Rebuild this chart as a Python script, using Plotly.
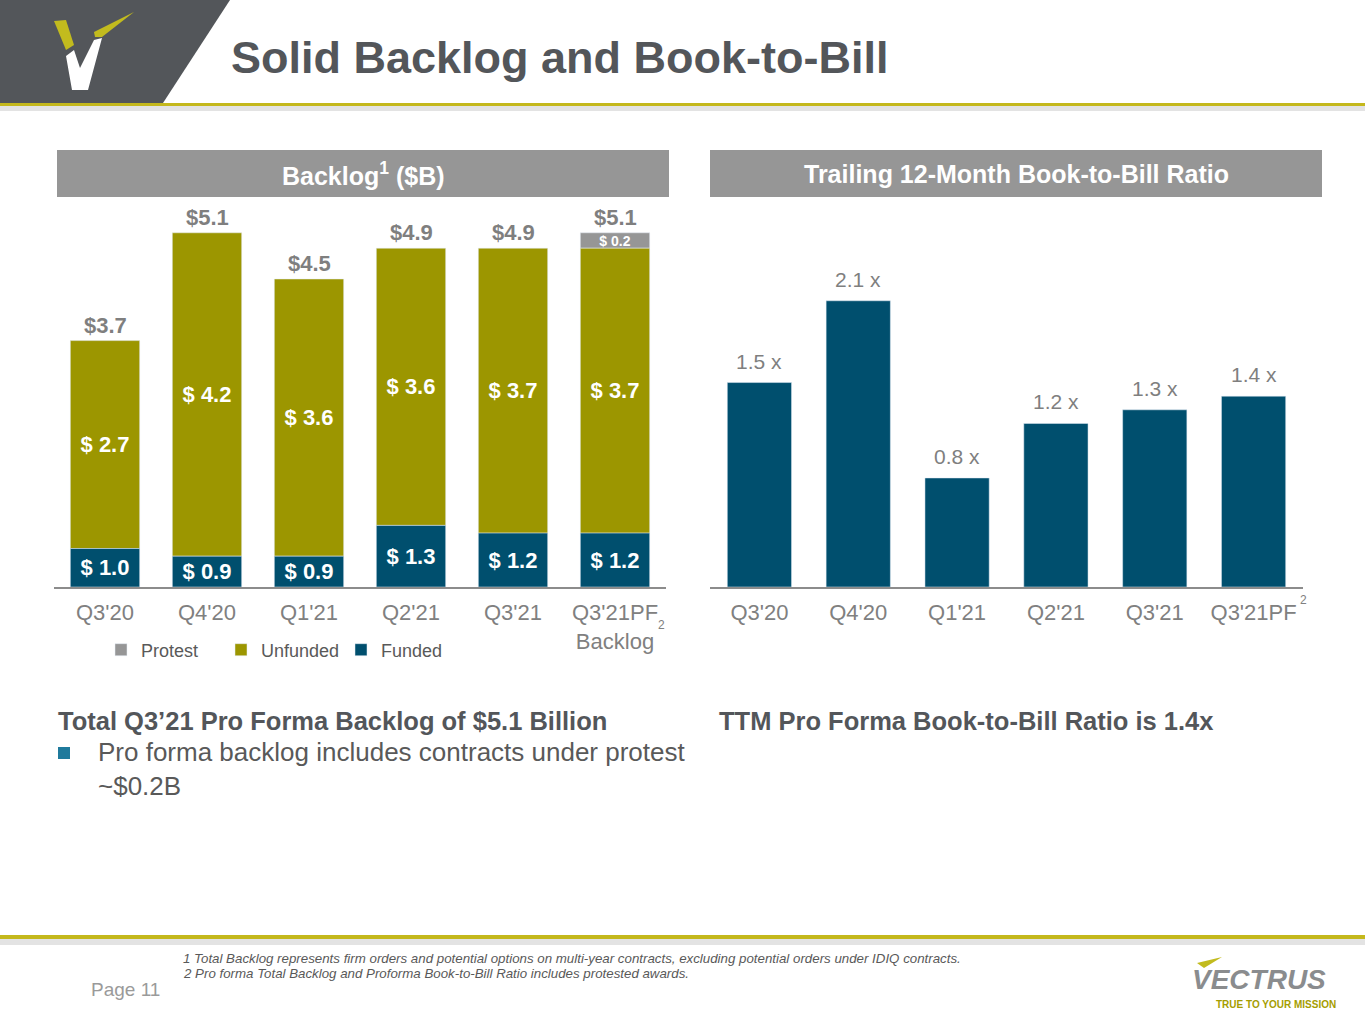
import plotly.graph_objects as go

# canvas size in px, everything decorative is placed in paper coords
W, H = 1365, 1024

# ---- data ----
quarters = ["Q3'20", "Q4'20", "Q1'21", "Q2'21", "Q3'21", "Q3'21PF"]
backlog_ticks = ["Q3'20", "Q4'20", "Q1'21", "Q2'21", "Q3'21", "Q3'21PF<br>Backlog"]
funded = [1.0, 0.9, 0.9, 1.3, 1.2, 1.2]
unfunded = [2.7, 4.2, 3.6, 3.6, 3.7, 3.7]
protest = [None, None, None, None, None, 0.2]
book_to_bill = [1.5, 2.1, 0.8, 1.2, 1.3, 1.4]

# the backlog chart's value axis does not start at zero on the slide
Y_MIN = 0.5

FONT = "Arial, Liberation Sans, sans-serif"
OLIVE = "#9c9600"
NAVY = "#004f6e"
GRAY_BAR = "#969696"
DARK = "#53565a"
TICK = "#808080"
LINE_Y = "#c4b81c"


def px(x):
    return x / W


def py(y):
    return 1 - y / H


def poly(points):
    pts = [f"{px(x)},{py(y)}" for x, y in points]
    return "M" + " L".join(pts) + " Z"


def label(x, y, text, size, color, xanchor="center", **font):
    # free text placed by slide pixel position
    return dict(x=px(x), y=py(y), xref="paper", yref="paper",
                xanchor=xanchor, yanchor="middle", align="left",
                text=text, showarrow=False,
                font=dict(size=size, color=color, family=FONT, **font))


totals = [f + u + (p or 0) for f, u, p in zip(funded, unfunded, protest)]

fig = go.Figure()

# left chart: stacked backlog
fig.add_trace(go.Bar(
    x=quarters, y=protest, base=[f + u for f, u in zip(funded, unfunded)],
    name="Protest", marker_color=GRAY_BAR, width=0.68,
    text=[f"$ {v:.1f}" if v else "" for v in protest],
    textposition="inside", insidetextanchor="middle", constraintext="none",
    textfont=dict(color="white", size=14, family=FONT, weight="bold"),
    xaxis="x", yaxis="y",
))
fig.add_trace(go.Bar(
    x=quarters, y=unfunded, base=funded,
    name="Unfunded", marker_color=OLIVE, width=0.68,
    text=[f"$ {v:.1f}" for v in unfunded],
    textposition="inside", insidetextanchor="middle", constraintext="none",
    textfont=dict(color="white", size=22, family=FONT, weight="bold"),
    xaxis="x", yaxis="y",
))
fig.add_trace(go.Bar(
    x=quarters, y=[f - Y_MIN for f in funded], base=Y_MIN,
    name="Funded", marker_color=NAVY, width=0.68,
    text=[f"$ {v:.1f}" for v in funded],
    textposition="inside", insidetextanchor="middle", constraintext="none",
    textfont=dict(color="white", size=22, family=FONT, weight="bold"),
    xaxis="x", yaxis="y",
))

# right chart: book-to-bill
fig.add_trace(go.Bar(
    x=quarters, y=book_to_bill, marker_color=NAVY, width=0.65,
    showlegend=False, xaxis="x2", yaxis="y2",
))

annotations = []

# totals above the backlog bars
for q, t in zip(quarters, totals):
    annotations.append(dict(
        x=q, y=t, xref="x", yref="y", xanchor="center", yanchor="bottom", yshift=1,
        text=f"${t:.1f}", showarrow=False,
        font=dict(size=22, color="#7f7f7f", family=FONT, weight="bold"),
    ))

# ratio labels
for q, r in zip(quarters, book_to_bill):
    annotations.append(dict(
        x=q, y=r, xref="x2", yref="y2", xanchor="center", yanchor="bottom", yshift=8,
        text=f"{r:.1f} x", showarrow=False,
        font=dict(size=21, color="#7f7f7f", family=FONT),
    ))

annotations += [
    # footnote markers on the tick labels
    label(661, 625, "2", 12, TICK),
    label(1303, 600, "2", 12, TICK),
    # title and panel headers
    label(229, 57, "Solid Backlog and Book-to-Bill", 45, DARK, xanchor="left", weight="bold"),
    label(363, 174, "Backlog<sup>1</sup> ($B)", 25, "white", weight="bold"),
    label(1016, 174, "Trailing 12-Month Book-to-Bill Ratio", 25, "white", weight="bold"),
    # commentary below the charts
    label(56, 721, "Total Q3’21 Pro Forma Backlog of $5.1 Billion", 25.5, DARK,
          xanchor="left", weight="bold"),
    label(96, 769, "Pro forma backlog includes contracts under protest<br>~$0.2B", 26,
          "#595959", xanchor="left"),
    label(717, 721, "TTM Pro Forma Book-to-Bill Ratio is 1.4x", 25.5, DARK,
          xanchor="left", weight="bold"),
    # footer
    label(181, 958, "1 Total Backlog represents firm orders and potential options on "
          "multi-year contracts, excluding potential orders under IDIQ contracts.",
          13.3, "#595959", xanchor="left", style="italic"),
    label(181, 973, "2 Pro forma Total Backlog and Proforma Book-to-Bill Ratio includes "
          "protested awards.", 13.3, "#595959", xanchor="left", style="italic"),
    label(89, 989, "Page 11", 19, "#9a9a9a", xanchor="left"),
    label(1259, 979, "VECTRUS", 28, "#8a8c8e", weight="bold", style="italic"),
    label(1276, 1004, "TRUE TO YOUR MISSION", 10, "#a59d00", weight="bold"),
]

shapes = [
    # header band
    dict(type="path", xref="paper", yref="paper", line_width=0, fillcolor=DARK,
         path=poly([(0, 0), (230, 0), (163, 103), (0, 103)])),
    dict(type="rect", xref="paper", yref="paper", line_width=0, fillcolor="#e3e3e3",
         x0=0, x1=1, y0=py(111), y1=py(106)),
    dict(type="rect", xref="paper", yref="paper", line_width=0, fillcolor=LINE_Y,
         x0=0, x1=1, y0=py(106), y1=py(103)),
    # V mark
    dict(type="path", xref="paper", yref="paper", line_width=0, fillcolor="#c2bb1e",
         path=poly([(54, 21), (66, 20), (74, 45), (66, 50)])),
    dict(type="path", xref="paper", yref="paper", line_width=0, fillcolor="white",
         path=poly([(66, 56), (74, 50), (80, 68), (94, 40), (102, 38), (88, 90), (72, 90)])),
    dict(type="path", xref="paper", yref="paper", line_width=0, fillcolor="#c2bb1e",
         path=poly([(94, 32), (134, 12), (102, 37), (95, 37)])),
    # panel headers
    dict(type="rect", xref="paper", yref="paper", line_width=0, fillcolor=GRAY_BAR,
         x0=px(57), x1=px(669), y0=py(197), y1=py(150)),
    dict(type="rect", xref="paper", yref="paper", line_width=0, fillcolor=GRAY_BAR,
         x0=px(710), x1=px(1322), y0=py(197), y1=py(150)),
    # bullet
    dict(type="rect", xref="paper", yref="paper", line_width=0, fillcolor="#1f7a9c",
         x0=px(58), x1=px(70), y0=py(759), y1=py(747)),
    # footer rule
    dict(type="rect", xref="paper", yref="paper", line_width=0, fillcolor="#e3e3e3",
         x0=0, x1=1, y0=py(945), y1=py(939)),
    dict(type="rect", xref="paper", yref="paper", line_width=0, fillcolor=LINE_Y,
         x0=0, x1=1, y0=py(939), y1=py(935)),
    # yellow slash on the VECTRUS logo
    dict(type="path", xref="paper", yref="paper", line_width=0, fillcolor="#c2bb1e",
         path=poly([(1197, 963), (1222, 957), (1204, 968)])),
]

axis_common = dict(
    showline=True, linecolor="#8c8c8c", linewidth=1.5, ticks="",
    showgrid=False, zeroline=False, tickangle=0, ticklabelstandoff=5,
    tickfont=dict(size=22, color=TICK, family=FONT),
)

fig.update_layout(
    width=W, height=H,
    margin=dict(l=0, r=0, t=0, b=0),
    paper_bgcolor="white", plot_bgcolor="white",
    barmode="overlay",
    font=dict(family=FONT),
    xaxis=dict(domain=[px(54), px(666)], anchor="y",
               tickvals=quarters, ticktext=backlog_ticks, **axis_common),
    yaxis=dict(domain=[py(587), py(200)], range=[Y_MIN, Y_MIN + 387 / 77],
               visible=False, anchor="x"),
    xaxis2=dict(domain=[px(710), px(1303)], anchor="y2", **axis_common),
    yaxis2=dict(domain=[py(587), py(200)], range=[0, 387 / 136.3],
                visible=False, anchor="x2"),
    legend=dict(orientation="h", x=px(101), y=py(650), xanchor="left", yanchor="middle",
                entrywidth=75, entrywidthmode="pixels",
                font=dict(size=18, color="#595959", family=FONT),
                bgcolor="rgba(0,0,0,0)"),
    annotations=annotations,
    shapes=shapes,
)

# the page is photographed at exactly the slide size, so drop the default body margin
fig.write_html("out.html", config={"displayModeBar": False},
               post_script="document.body.style.margin='0px';")
